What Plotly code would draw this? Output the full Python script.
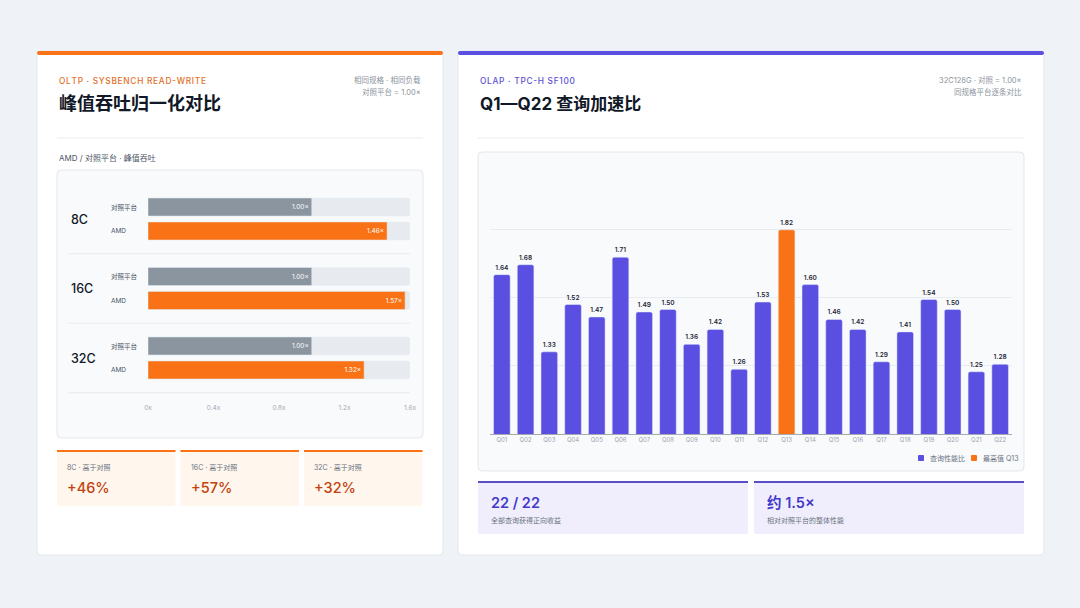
import plotly.graph_objects as go

# %% DATA
CORES = ["8C", "16C", "32C"]
BASE_RATIO = [1.00, 1.00, 1.00]
AMD_RATIO = [1.46, 1.57, 1.32]
ROW_LABELS = ["对照平台", "AMD"]
X_TICKS = [0, 0.4, 0.8, 1.2, 1.6]
X_TICK_TEXT = ["0x", "0.4x", "0.8x", "1.2x", "1.6x"]

QUERIES = ["Q01", "Q02", "Q03", "Q04", "Q05", "Q06", "Q07", "Q08", "Q09", "Q10", "Q11",
           "Q12", "Q13", "Q14", "Q15", "Q16", "Q17", "Q18", "Q19", "Q20", "Q21", "Q22"]
SPEEDUP = [1.64, 1.68, 1.33, 1.52, 1.47, 1.71, 1.49, 1.50, 1.36, 1.42, 1.26,
           1.53, 1.82, 1.60, 1.46, 1.42, 1.29, 1.41, 1.54, 1.50, 1.25, 1.28]

# %% STYLE
W, H = 1080, 608
FONT = "Inter, 'Noto Sans CJK SC', sans-serif"
PAGE_BG = "#eff2f6"
ORANGE = "#f97316"
ORANGE_DARK = "#c2410c"
PURPLE = "#5a4fe0"
PURPLE_DARK = "#4338ca"
GREY_BAR = "#8b959f"
TRACK = "#e7ebef"
INK = "#111827"
MUTED = "#8b939d"
HAIR = "\u200a"


def px(x):
    return x / W


def py(y):
    return 1 - y / H


def spaced(s):
    # fake letter-spacing for the small caps labels
    return HAIR.join(s)


def rrect(x0, y0, x1, y1, r=4):
    # rounded rectangle in pixel coords -> paper path
    pts = [
        f"M{px(x0 + r)},{py(y0)}",
        f"L{px(x1 - r)},{py(y0)}", f"Q{px(x1)},{py(y0)} {px(x1)},{py(y0 + r)}",
        f"L{px(x1)},{py(y1 - r)}", f"Q{px(x1)},{py(y1)} {px(x1 - r)},{py(y1)}",
        f"L{px(x0 + r)},{py(y1)}", f"Q{px(x0)},{py(y1)} {px(x0)},{py(y1 - r)}",
        f"L{px(x0)},{py(y0 + r)}", f"Q{px(x0)},{py(y0)} {px(x0 + r)},{py(y0)}", "Z",
    ]
    return " ".join(pts)


def box(x0, y0, x1, y1, fill, line="rgba(0,0,0,0)", r=4):
    fig.add_shape(type="path", path=rrect(x0, y0, x1, y1, r), xref="paper", yref="paper",
                  fillcolor=fill, line=dict(color=line, width=1), layer="below")


def hline(x0, x1, y, color, width=1):
    fig.add_shape(type="line", x0=px(x0), x1=px(x1), y0=py(y), y1=py(y), xref="paper",
                  yref="paper", line=dict(color=color, width=width), layer="below")


def text(x, y, s, size, color, anchor="left", weight=400):
    fig.add_annotation(x=px(x), y=py(y), xref="paper", yref="paper", text=s, showarrow=False,
                       xanchor=anchor, yanchor="middle",
                       font=dict(family=FONT, size=size, color=color, weight=weight))


fig = go.Figure()

# %% CARDS
for x0, x1, accent in [(37, 443, ORANGE), (458, 1044, PURPLE)]:
    box(x0, 51, x1, 555, "#ffffff", line="#e4e7ec", r=5)
    box(x0, 51, x1, 55, accent, r=2)

# left card header
text(57, 81, spaced("OLTP · SYSBENCH READ-WRITE"), 8.3, "#e2702a", weight=500)
text(57, 104, "峰值吞吐归一化对比", 18, INK, weight=700)
text(423, 80, "相同规格 · 相同负载", 7.5, MUTED, anchor="right")
text(423, 92, "对照平台 = 1.00×", 7.5, MUTED, anchor="right")
hline(57, 423, 138, "#e9ecf0")
text(57, 158, "AMD / 对照平台 · 峰值吞吐", 8, "#4b5563")
box(57, 170, 423, 438, "#f8fafc", line="#e3e7ec", r=4)

# right card header
text(478, 81, spaced("OLAP · TPC-H SF100"), 8.3, "#5b50d6", weight=500)
text(478, 104, "Q1—Q22 查询加速比", 17, INK, weight=700)
text(1024, 80, "32C128G · 对照 = 1.00×", 7.5, MUTED, anchor="right")
text(1024, 92, "同规格平台逐条对比", 7.5, MUTED, anchor="right")
hline(478, 1024, 138, "#e9ecf0")
box(478, 152, 1024, 471, "#f8fafc", line="#e3e7ec", r=4)

# %% LEFT: horizontal bars
ROW_PX = 24                 # pixel height of one row slot
STEP = 69.5 / ROW_PX        # group spacing in row units
base_pos = [g * STEP for g in range(len(CORES))]
amd_pos = [p + 1 for p in base_pos]

fig.add_trace(go.Bar(
    orientation="h", x=[X_TICKS[-1]] * (2 * len(CORES)), y=base_pos + amd_pos,
    width=0.75, marker=dict(color=TRACK, cornerradius=3), hoverinfo="skip",
    showlegend=False, xaxis="x", yaxis="y",
))
for vals, pos, color in [(BASE_RATIO, base_pos, GREY_BAR), (AMD_RATIO, amd_pos, ORANGE)]:
    fig.add_trace(go.Bar(
        orientation="h", x=vals, y=pos, width=0.75,
        marker=dict(color=color, cornerradius=3),
        text=[f"{v:.2f}×" for v in vals], textposition="inside", insidetextanchor="end",
        textfont=dict(family=FONT, size=6.5, color="#ffffff"),
        showlegend=False, xaxis="x", yaxis="y",
    ))

for g, core in enumerate(CORES):
    fig.add_annotation(x=px(69), xref="paper", y=base_pos[g] + 0.5, yref="y", text=core,
                       showarrow=False, xanchor="left",
                       font=dict(family=FONT, size=12.5, color=INK, weight=500))
    for pos, lab in zip([base_pos[g], amd_pos[g]], ROW_LABELS):
        fig.add_annotation(x=px(109), xref="paper", y=pos, yref="y", text=lab,
                           showarrow=False, xanchor="left",
                           font=dict(family=FONT, size=6.5, color="#4b5563"))
    sep_y = 195 + (amd_pos[g] + 0.5 + (STEP - 1) / 2) * ROW_PX
    hline(68, 410, sep_y, "#e8ebef")

# left stat boxes
for i, core in enumerate(CORES):
    x0 = 57 + i * 123.5
    x1 = x0 + 118.5
    box(x0, 450, x1, 506, "#fff6ee", r=2)
    hline(x0, x1, 451, ORANGE, 2)
    gain = round((AMD_RATIO[i] / BASE_RATIO[i] - 1) * 100)
    text(x0 + 8, 467, f"{core} · 高于对照", 7, "#6b7280")
    text(x0 + 8, 487, f"+{gain}%", 14.5, ORANGE_DARK, weight=500)

# %% RIGHT: vertical bars
imax = SPEEDUP.index(max(SPEEDUP))
normal = [None if i == imax else v for i, v in enumerate(SPEEDUP)]
peak = [v if i == imax else None for i, v in enumerate(SPEEDUP)]
series = [(normal, PURPLE, "查询性能比"), (peak, ORANGE, f"最高值 {QUERIES[imax]}")]
for vals, color, name in series:
    fig.add_trace(go.Bar(
        x=QUERIES, y=vals, name=name, marker=dict(color=color, cornerradius=2),
        text=[f"{v:.2f}" if v is not None else "" for v in vals], textposition="outside",
        textfont=dict(family=FONT, size=6.5, color="#1f2937", weight=600),
        cliponaxis=False, showlegend=False, xaxis="x2", yaxis="y2",
    ))

# compact legend drawn by hand (plotly's swatches are too wide here)
for (vals, color, name), sx in zip(series, [918, 971]):
    box(sx, 455, sx + 6, 461, color, r=1)
    text(sx + 10, 458, name, 7, "#6b7280")

ymin, ymax = 1.0, max(SPEEDUP)
grid_vals = [ymin + (ymax - ymin) * k / 3 for k in range(4)]

# right stat boxes
n_pos = sum(v > 1 for v in SPEEDUP)
avg = sum(SPEEDUP) / len(SPEEDUP)
for x0, x1, big, small in [(478, 748, f"{n_pos} / {len(SPEEDUP)}", "全部查询获得正向收益"),
                           (754, 1024, f"约 {avg:.1f}×", "相对对照平台的整体性能")]:
    box(x0, 481, x1, 534, "#f0eefc", r=2)
    hline(x0, x1, 482, "#5b4fc7", 2)
    text(x0 + 11, 502, big, 14.5, PURPLE_DARK, weight=600)
    text(x0 + 11, 520, small, 7, "#6b7280")

# %% LAYOUT
fig.update_layout(
    width=W, height=H, autosize=False,
    margin=dict(l=0, r=0, t=0, b=0, pad=0, autoexpand=False),
    paper_bgcolor=PAGE_BG, plot_bgcolor="rgba(0,0,0,0)",
    barmode="overlay", bargap=0.3,
    font=dict(family=FONT),
    xaxis=dict(domain=[px(148), px(410)], range=[0, X_TICKS[-1]], tickvals=X_TICKS,
               ticktext=X_TICK_TEXT, showgrid=False, zeroline=False, showline=False,
               ticks="", ticklabelstandoff=20,
               tickfont=dict(family=FONT, size=6.5, color="#a3aab3")),
    yaxis=dict(domain=[py(382), py(195)], range=[amd_pos[-1] + 0.5, -0.5], visible=False),
    xaxis2=dict(domain=[px(490), px(1012)], anchor="y2", showgrid=False, showline=True,
                linecolor="#a3aab3", linewidth=1, ticks="",
                tickfont=dict(family=FONT, size=6, color="#9ca3af")),
    yaxis2=dict(domain=[py(434), py(185)], anchor="x2", range=[ymin, 2.0], tickvals=grid_vals,
                showticklabels=False, gridcolor="#e8ebf0", gridwidth=1, zeroline=False),
    showlegend=False,
)

fig.write_html(
    "out.html",
    config={"displayModeBar": False, "responsive": False},
    post_script=(
        "document.body.style.margin='0';"
        "document.body.style.overflow='hidden';"
        "document.documentElement.style.overflow='hidden';"
    ),
)
